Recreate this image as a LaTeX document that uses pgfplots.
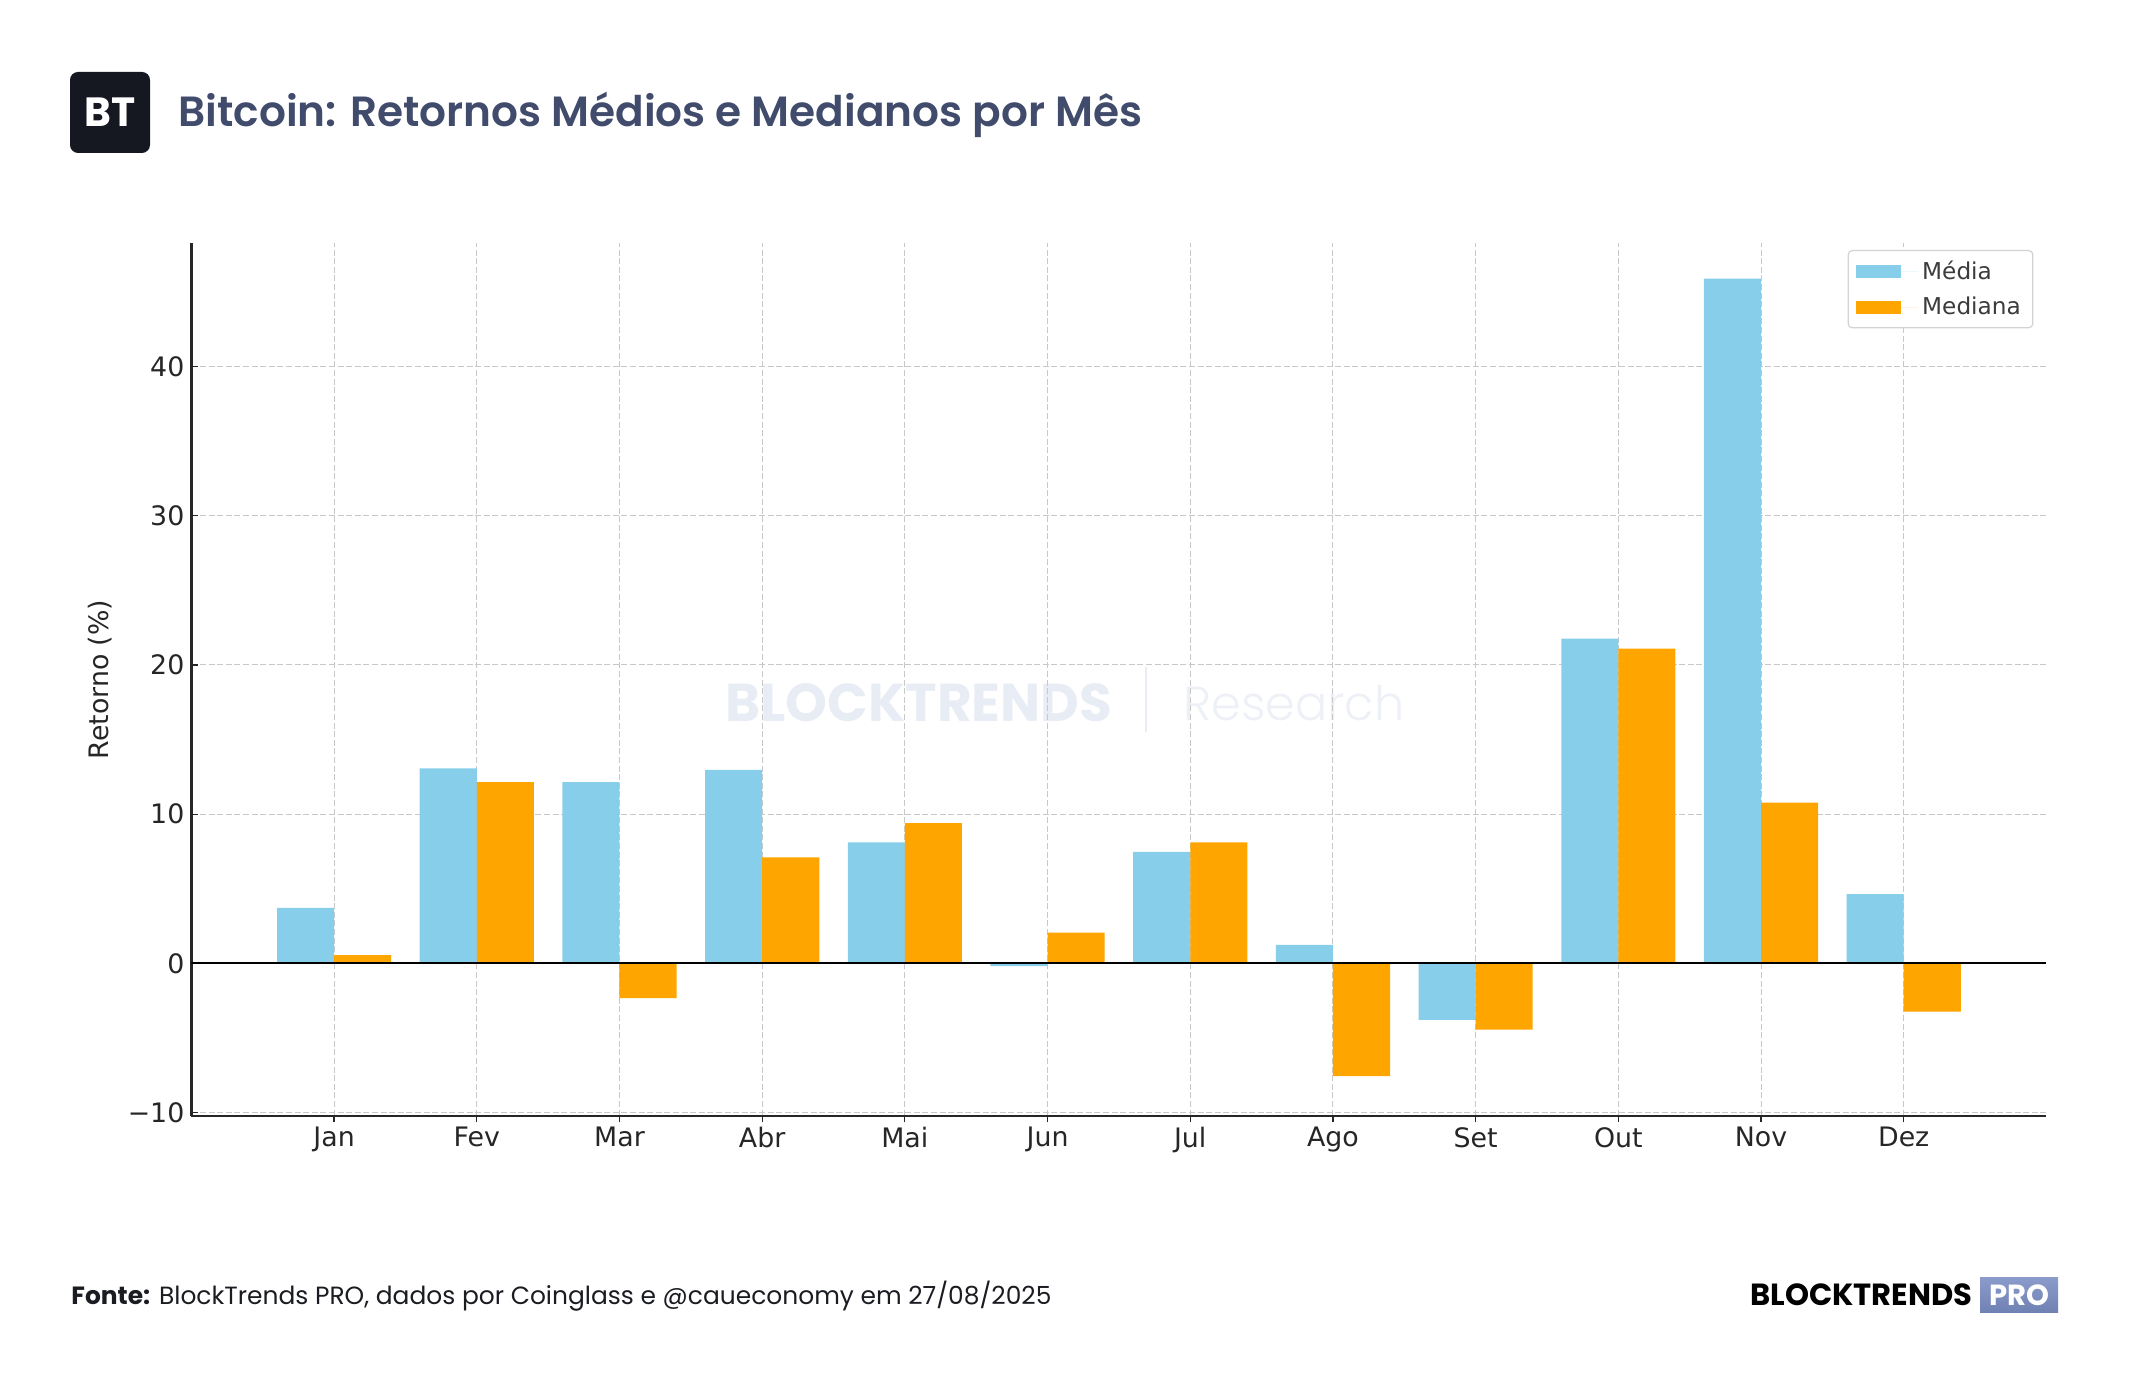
\documentclass[border=0pt]{standalone}
\usepackage{pgfplots}
\pgfplotsset{compat=1.18}
\usepackage{fontspec}
\setmainfont{DejaVu Sans}
\newfontfamily\pop{Poppins}
\newfontfamily\popsb{Poppins SemiBold}
\newfontfamily\popl{Poppins Light}

\definecolor{media}{HTML}{87CEEB}
\definecolor{mediana}{HTML}{FFA500}
\definecolor{titlec}{HTML}{414B6C}
\definecolor{logobg}{HTML}{161821}
\definecolor{wmark}{HTML}{E8EDF5}
\definecolor{wmarkl}{HTML}{EDF0F6}
\definecolor{gridc}{HTML}{C8C8C8}
\definecolor{spine}{HTML}{262626}
\definecolor{foot}{HTML}{1A1C22}
\definecolor{protop}{HTML}{8A9BCB}
\definecolor{probot}{HTML}{6F80B2}

% monthly returns (%)
\pgfplotstableread{
m   media  mediana
0   3.71   0.55
1   13.06  12.15
2   12.15  -2.34
3   12.97  7.10
4   8.11   9.40
5   -0.20  2.06
6   7.47   8.11
7   1.24   -7.56
8   -3.80  -4.45
9   21.77  21.10
10  45.90  10.77
11  4.63   -3.25
}\retornos

\begin{document}
\begin{tikzpicture}[x=0.5pt,y=0.5pt]
\path[use as bounding box] (0,0) rectangle (2144,1400);

% header
\fill[logobg, rounded corners=4pt] (70,1328) rectangle (150,1247);
\node[text=white, inner sep=0pt] at (110,1287.5) {\resizebox{25.5pt}{!}{\pop\bfseries BT}};
\node[anchor=base west, inner sep=0pt, text=titlec] at (178,1273.3)
  {\resizebox{482pt}{!}{\popsb Bitcoin: Retornos Médios e Medianos por Mês}};

% background watermark
\node[anchor=west, inner sep=0pt, text=wmark] at (725,697) {\resizebox{193.5pt}{!}{\pop\bfseries BLOCKTRENDS}};
\draw[wmark, line width=1.2pt] (1146,733) -- (1146,668);
\node[anchor=west, inner sep=0pt, text=wmarkl] at (1183,697) {\resizebox{110.5pt}{!}{\popl Research}};

\begin{axis}[
  at={(95.7pt,142.15pt)}, anchor=south west,
  scale only axis, width=927.5pt, height=436.15pt,
  xmin=-1, xmax=12, ymin=-10.22, ymax=48.27,
  axis x line*=bottom, axis y line*=left,
  axis line style={spine, line width=1.1pt},
  xtick={0,...,11},
  xticklabels={Jan,Fev,Mar,Abr,Mai,Jun,Jul,Ago,Set,Out,Nov,Dez},
  ytick={-10,0,10,20,30,40},
  yticklabels={−10,0,10,20,30,40},
  tick align=inside, major tick length=3.3pt,
  tick style={spine, line width=0.6pt},
  grid=major,
  major grid style={gridc, dash pattern=on 3pt off 1.3pt, line width=0.5pt},
  ticklabel style={font=\fontsize{13.4}{16}\selectfont, text=spine},
  xticklabel style={yshift=1pt},
  ylabel={Retorno (\%)},
  ylabel style={at={(axis description cs:-0.0494,0.5)}, anchor=center,
                font=\fontsize{13.4}{16}\selectfont, text=spine},
  ybar, bar width=28.54pt,
  legend style={at={(1,1)}, anchor=north east, xshift=-6.5pt, yshift=-3.3pt,
                draw=gridc!80, line width=0.6pt, rounded corners=2pt, fill=white,
                font=\fontsize{11.6}{13}\selectfont, text=spine!90,
                inner xsep=4pt, inner ysep=3pt, row sep=3.5pt},
  legend cell align=left,
  legend image code/.code={%
    \fill[#1, sharp corners] (0pt,-3.4pt) rectangle (22.5pt,3.4pt);
    \path (0pt,0pt) -- (31pt,0pt);},
]
\addplot[fill=media, draw=none, bar shift=-14.27pt] table[x=m, y=media] {\retornos};
\addplot[fill=mediana, draw=none, bar shift=14.27pt] table[x=m, y=mediana] {\retornos};
\legend{Média, Mediana}
\draw[black, line width=1pt] (axis cs:-1,0) -- (axis cs:12,0);
\end{axis}

% footer
\node[anchor=base west, inner sep=0pt, text=foot] at (71,95.7)
  {\resizebox{490pt}{!}{\pop\textbf{Fonte:} BlockTrends PRO, dados por Coinglass e @caueconomy em 27/08/2025}};
\node[anchor=west, inner sep=0pt, text=black] at (1750,105) {\resizebox{111pt}{!}{\pop\bfseries BLOCKTRENDS}};
\shade[top color=protop, bottom color=probot] (1980,122) rectangle (2058,87);
\node[text=white, inner sep=0pt] at (2019,104.5) {\resizebox{30pt}{!}{\pop\bfseries PRO}};
\end{tikzpicture}
\end{document}
